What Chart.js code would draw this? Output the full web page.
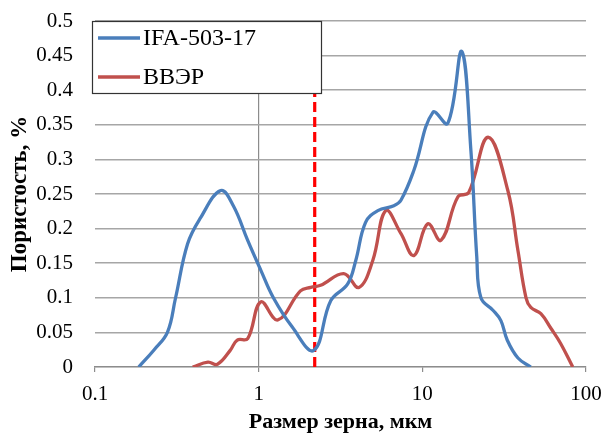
<!DOCTYPE html>
<html>
<head>
<meta charset="utf-8">
<script src="https://cdn.jsdelivr.net/npm/chart.js@4.4.1/dist/chart.umd.min.js"></script>
<style>
html,body{margin:0;padding:0;background:#fff;}
canvas{display:block;}
</style>
</head>
<body>
<canvas id="c" width="604" height="436"></canvas>
<script>
// ---- data ----
const seriesNames = ['IFA-503-17', 'ВВЭР'];
const ifaX = [0.185, 0.23, 0.277, 0.31, 0.368, 0.44, 0.586, 0.70, 0.857, 1.03, 1.23, 1.6, 2.17, 2.76, 3.5, 3.92, 4.5, 5.35, 6.7, 7.4, 8.87, 11.6, 14.3, 17.4, 19.8, 21.5, 22.8, 27, 30.2, 33, 38.4, 46];
const ifaY = [0, 0.025, 0.05, 0.099, 0.178, 0.215, 0.255, 0.233, 0.183, 0.14, 0.10, 0.058, 0.024, 0.096, 0.12, 0.154, 0.209, 0.226, 0.233, 0.241, 0.284, 0.368, 0.352, 0.456, 0.313, 0.16, 0.10, 0.082, 0.067, 0.039, 0.013, 0];
const vverX = [0.395, 0.49, 0.56, 0.67, 0.74, 0.857, 1.03, 1.31, 1.8, 2.08, 2.39, 3.31, 4.1, 4.98, 5.98, 7.39, 8.87, 10.8, 13.0, 16.5, 19.2, 25.2, 33.3, 38.4, 43, 46, 53, 61, 70, 83];
const vverY = [0, 0.007, 0.004, 0.024, 0.039, 0.041, 0.094, 0.068, 0.11, 0.115, 0.118, 0.135, 0.115, 0.154, 0.226, 0.193, 0.161, 0.207, 0.183, 0.246, 0.252, 0.332, 0.255, 0.168, 0.10, 0.086, 0.077, 0.056, 0.034, 0];
const markerX = [2.2, 2.2];
const markerY = [0, 0.5];
const xTickValues = [0.1, 1, 10, 100];
const xTickLabels = ['0.1', '1', '10', '100'];
const yTickValues = [0, 0.05, 0.1, 0.15, 0.2, 0.25, 0.3, 0.35, 0.4, 0.45, 0.5];
const yTickLabels = ['0', '0.05', '0.1', '0.15', '0.2', '0.25', '0.3', '0.35', '0.4', '0.45', '0.5'];
const xTitle = 'Размер зерна, мкм';
const yTitle = 'Пористость, %';

const BLUE = '#4a7ebb';
const RED = '#c0504d';
const SERIF = "'Liberation Serif', 'Times New Roman', serif";

const pts = (xs, ys) => xs.map((x, i) => ({x: x, y: ys[i]}));

const legendPlugin = {
  id: 'boxLegend',
  afterDraw(chart) {
    const ctx = chart.ctx;
    const a = chart.chartArea;
    const l = a.left - 3, t = a.top, w = 229, h = 72;
    ctx.save();
    ctx.fillStyle = '#fff';
    ctx.fillRect(l, t, w, h);
    ctx.strokeStyle = '#333';
    ctx.lineWidth = 1.2;
    ctx.strokeRect(l + 0.5, t + 0.5, w, h);
    const items = [[seriesNames[0], BLUE], [seriesNames[1], RED]];
    ctx.font = '24px ' + SERIF;
    ctx.textBaseline = 'middle';
    items.forEach((it, i) => {
      const y = t + 17 + i * 39;
      ctx.strokeStyle = it[1];
      ctx.lineWidth = 3.5;
      ctx.beginPath();
      ctx.moveTo(l + 6, y);
      ctx.lineTo(l + 48, y);
      ctx.stroke();
      ctx.fillStyle = '#000';
      ctx.fillText(it[0], l + 51, y + 1);
    });
    ctx.restore();
  }
};

function noPad(axis) {
  axis.paddingTop = 0; axis.paddingBottom = 0;
  axis.paddingLeft = 0; axis.paddingRight = 0;
}

new Chart(document.getElementById('c'), {
  type: 'line',
  data: {
    datasets: [
      {label: seriesNames[0], data: pts(ifaX, ifaY), borderColor: BLUE, borderWidth: 3.3, pointRadius: 0, tension: 0.4, fill: false},
      {label: seriesNames[1], data: pts(vverX, vverY), borderColor: RED, borderWidth: 3.3, pointRadius: 0, tension: 0.4, fill: false},
      {label: 'marker', data: pts(markerX, markerY), borderColor: '#ff0000', borderWidth: 3.2, borderDash: [10, 5], pointRadius: 0, tension: 0, fill: false}
    ]
  },
  options: {
    responsive: false,
    animation: false,
    devicePixelRatio: 1,
    layout: {padding: {top: 21, right: 18, left: 0, bottom: 0}},
    plugins: {legend: {display: false}, tooltip: {enabled: false}},
    scales: {
      x: {
        type: 'logarithmic',
        min: 0.1, max: 100,
        afterBuildTicks(axis) { axis.ticks = xTickValues.map(v => ({value: v})); },
        afterFit(axis) { axis.height = 69; noPad(axis); },
        ticks: {
          autoSkip: false, maxRotation: 0,
          color: '#000',
          font: {family: SERIF, size: 21},
          padding: 10,
          callback(value, index) { return xTickLabels[index]; }
        },
        grid: {
          color: (c) => (c.tick && c.tick.value === 1) ? '#8c8c8c' : 'rgba(0,0,0,0)',
          lineWidth: 1.2,
          tickColor: '#8c8c8c',
          tickLength: 5,
          drawTicks: true
        },
        border: {display: true, color: '#8c8c8c', width: 1.2},
        title: {
          display: true, text: xTitle, color: '#000',
          font: {family: SERIF, size: 22, weight: 'bold'},
          padding: {top: 0, bottom: 0}
        }
      },
      y: {
        min: 0, max: 0.5,
        afterBuildTicks(axis) { axis.ticks = yTickValues.map(v => ({value: v})); },
        afterFit(axis) { axis.width = 95; noPad(axis); },
        ticks: {
          color: '#000',
          font: {family: SERIF, size: 21},
          padding: 22,
          callback(value, index) { return yTickLabels[index]; }
        },
        grid: {color: '#a6a6a6', lineWidth: 1.5, drawTicks: false},
        border: {display: false},
        title: {
          display: true, text: yTitle, color: '#000',
          font: {family: SERIF, size: 23, weight: 'bold'},
          padding: {top: 6, bottom: 0}
        }
      }
    }
  },
  plugins: [legendPlugin]
});
</script>
</body>
</html>
